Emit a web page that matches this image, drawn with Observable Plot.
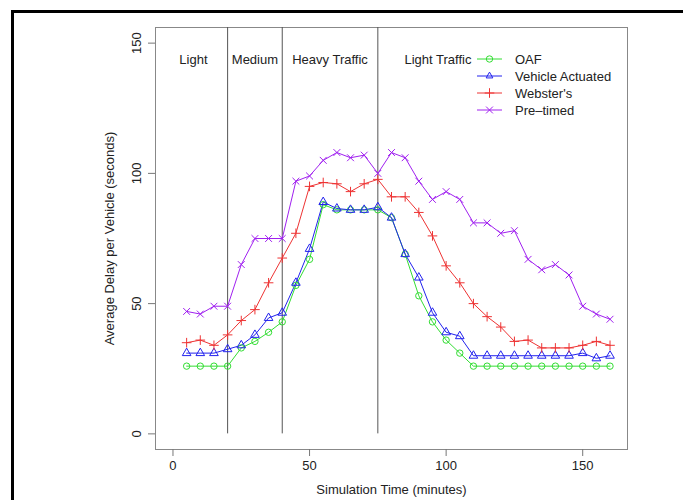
<!DOCTYPE html>
<html><head><meta charset="utf-8">
<script src="https://cdn.jsdelivr.net/npm/d3@7"></script>
<script src="https://cdn.jsdelivr.net/npm/@observablehq/plot@0.6"></script>
<style>
body{margin:0;background:#fff;overflow:hidden;font-family:"Liberation Sans",Arial,sans-serif}
#wrap{position:relative;width:683px;height:500px;overflow:hidden}
#border{position:absolute;left:11px;top:10px;width:700px;height:600px;border-top:3px solid #000;border-left:3px solid #000}
#legend{position:absolute;left:474px;top:51px}
</style></head><body>
<div id="wrap"><div id="chart"></div><div id="border"></div><div id="legend"></div></div>
<script>
// ---- data ----
const times = [5,10,15,20,25,30,35,40,45,50,55,60,65,70,75,80,85,90,95,100,105,110,115,120,125,130,135,140,145,150,155,160];
const oaf = [26,26,26,26, 33,35.5,39,43, 57,67,88,86,86,86,86, 83,69,53,43,36,31, 26,26,26,26,26,26,26,26,26,26,26];
const vehicleActuated = [31,31,31,32.5, 34,38,44.5,46.5, 58,71,89,86.5,86,86,87, 83,69,60,46.5,39,37.5, 30,30,30,30,30,30,30,30,31,29,30];
const websters = [35,36,34,38, 43.5,47.7,58,67.5, 77,95,96.5,96,93,96,97.7, 91,91,85,76,64.5,58, 50,45,41,35.5,36,33,33,33,34,35.5,34];
const preTimed = [47,46,49,49, 65,75,75,75, 97,99,105,108,106,107,100, 108,106,97,90,93,90, 81,81,77,78,67,63,65,61,49,46,44];
const seriesNames = ["OAF","Vehicle Actuated","Webster's","Pre\u2013timed"];
const seriesColors = ["#33dd33","#2222ee","#ee3333","#a020f0"];
const seriesSymbols = ["circle","triangle","plus","times"];
const phaseBounds = [20,40,75];
const phaseLabels = ["Light","Medium","Heavy Traffic","Light Traffic"];
const phaseLabelX = [7.5,30,57.5,97];
const phaseLabelY = 143.5;
const xTicks = [0,50,100,150];
const yTicks = [0,50,100,150];
const xDomain = [-6.4,166.4];
const yDomain = [-6,156];

const seriesValues = [oaf, vehicleActuated, websters, preTimed];
const rows = [];
seriesNames.forEach((name, s) => times.forEach((t, i) => rows.push({series: name, t, v: seriesValues[s][i]})));
const phaseRows = phaseLabels.map((label, i) => ({label, x: phaseLabelX[i]}));

const chart = Plot.plot({
  width: 683, height: 500,
  marginLeft: 155, marginRight: 56, marginTop: 27, marginBottom: 51,
  style: {fontFamily: "'Liberation Sans', Arial, sans-serif", fontSize: "13px", color: "#222", background: "#fff"},
  x: {domain: xDomain},
  y: {domain: yDomain},
  color: {domain: seriesNames, range: seriesColors},
  symbol: {domain: seriesNames, range: seriesSymbols},
  marks: [
    Plot.frame({stroke: "#888"}),
    Plot.axisX({ticks: xTicks, tickSize: 7, tickPadding: 4, stroke: "#777", fill: "#222",
      label: "Simulation Time (minutes)", labelAnchor: "center", labelOffset: 44, labelArrow: "none"}),
    Plot.axisY({ticks: yTicks, tickSize: 7, tickPadding: 8, tickRotate: -90, stroke: "#777", fill: "#222",
      label: "Average Delay per Vehicle (seconds)", labelAnchor: "center", labelOffset: 51, labelArrow: "none"}),
    Plot.ruleX(phaseBounds, {y1: 0, y2: yDomain[1], stroke: "#555"}),
    Plot.text(phaseRows, {x: "x", y: phaseLabelY, text: "label", fill: "#222", fontSize: 13}),
    Plot.line(rows, {x: "t", y: "v", z: "series", stroke: "series", strokeWidth: 1}),
    Plot.dot(rows, {x: "t", y: "v", symbol: "series", stroke: "series", fill: "none", r: 3.2, strokeWidth: 1})
  ]
});
document.getElementById("chart").append(chart);

// legend
const symMap = {circle: d3.symbolCircle, triangle: d3.symbolTriangle2, plus: d3.symbolPlus, times: d3.symbolTimes};
const lg = d3.create("svg").attr("width", 170).attr("height", 72)
  .style("font-family", "'Liberation Sans', Arial, sans-serif").style("font-size", "13px");
seriesNames.forEach((name, i) => {
  const y = 8 + i * 17;
  const g = lg.append("g").attr("transform", `translate(0,${y})`);
  g.append("line").attr("x1", 3).attr("x2", 28).attr("stroke", seriesColors[i]);
  g.append("path").attr("transform", "translate(15.5,0)")
    .attr("d", d3.symbol(symMap[seriesSymbols[i]], Math.PI * 3.2 * 3.2)())
    .attr("fill", "none").attr("stroke", seriesColors[i]);
  g.append("text").attr("x", 41).attr("dy", "0.35em").attr("fill", "#222").text(name);
});
document.getElementById("legend").append(lg.node());
</script>
</body></html>
